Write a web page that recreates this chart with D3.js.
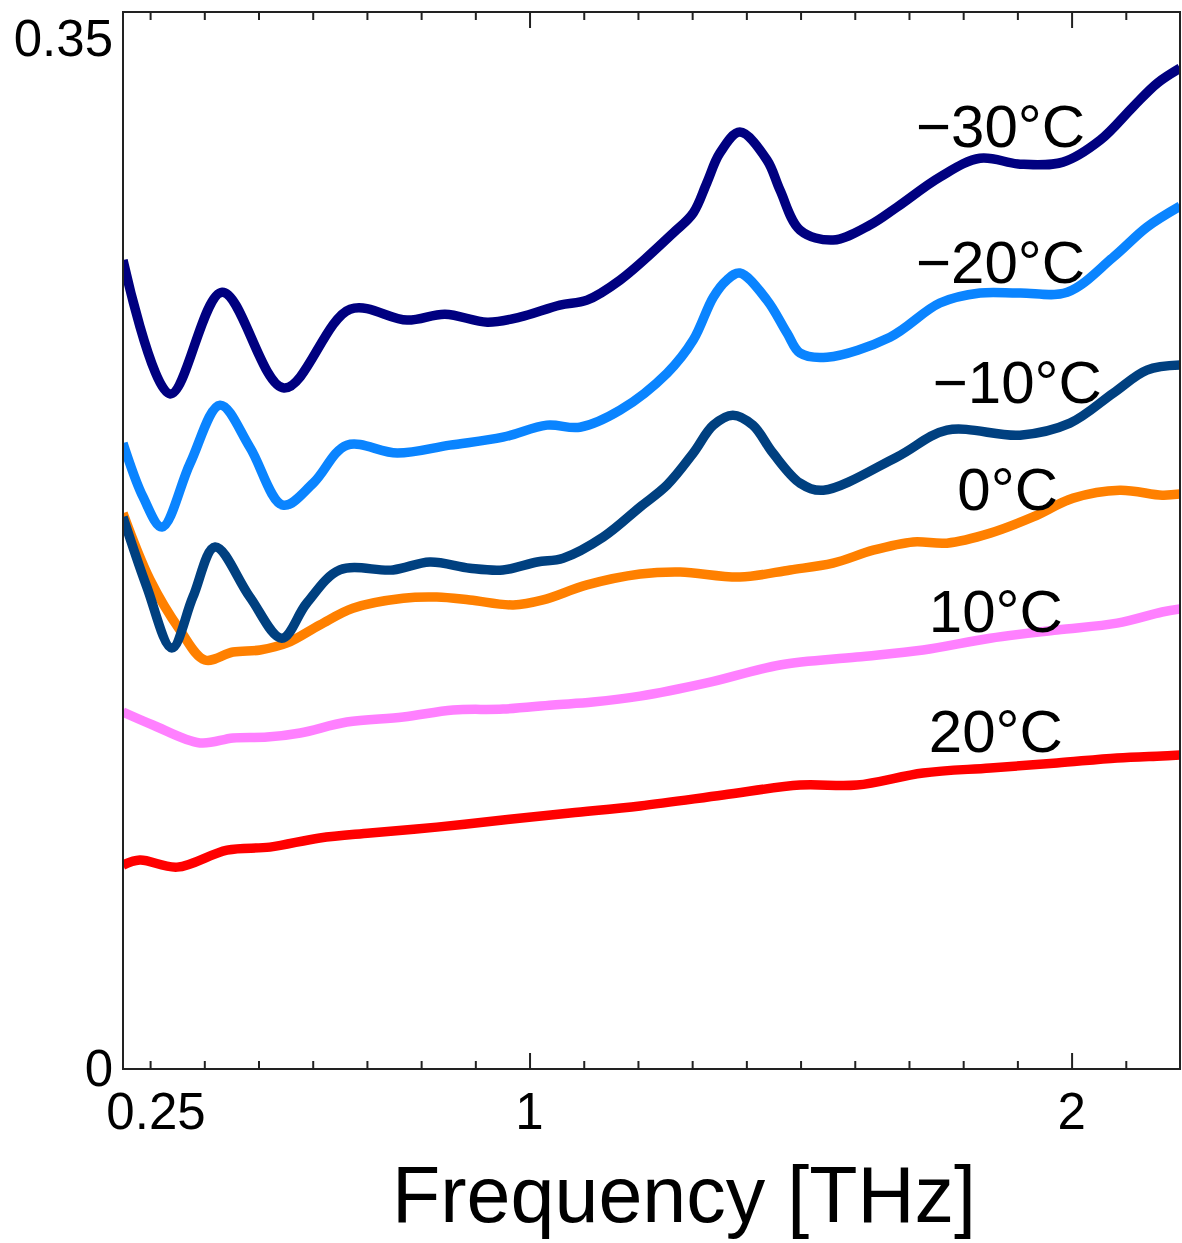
<!DOCTYPE html>
<html>
<head>
<meta charset="utf-8">
<script src="https://cdn.jsdelivr.net/npm/d3@7/dist/d3.min.js"></script>
<style>
  html, body { margin: 0; padding: 0; background: #fff; }
  svg { display: block; }
  text { font-family: "Liberation Sans", Arial, Helvetica, sans-serif; fill: #000; }
</style>
</head>
<body>
<div id="chart"></div>
<script>
// Frequency [THz] and value, one pair of arrays per temperature
const freqM30 = [0.25, 0.337, 0.433, 0.547, 0.669, 0.774, 0.844, 0.922, 0.982, 1.056, 1.106, 1.167, 1.265, 1.302, 1.327, 1.351, 1.388, 1.438, 1.462, 1.499, 1.560, 1.628, 1.678, 1.757, 1.831, 1.905, 1.984, 2.053, 2.113, 2.158, 2.2]
const valM30  = [0.2749, 0.2294, 0.2640, 0.2314, 0.2582, 0.2545, 0.2565, 0.2538, 0.2555, 0.2596, 0.2613, 0.2681, 0.2841, 0.2909, 0.3011, 0.3112, 0.3184, 0.3089, 0.2987, 0.2851, 0.2817, 0.2868, 0.2929, 0.3031, 0.3095, 0.3075, 0.3082, 0.3157, 0.3269, 0.3350, 0.3401]

const freqM20 = [0.25, 0.287, 0.322, 0.374, 0.429, 0.484, 0.545, 0.601, 0.663, 0.756, 0.853, 0.951, 1.032, 1.093, 1.167, 1.254, 1.302, 1.339, 1.364, 1.388, 1.438, 1.475, 1.499, 1.549, 1.665, 1.757, 1.831, 1.905, 1.992, 2.077, 2.139, 2.2]
const valM20  = [0.2127, 0.1944, 0.1842, 0.2059, 0.2256, 0.2113, 0.1916, 0.1991, 0.2120, 0.2093, 0.2120, 0.2147, 0.2188, 0.2181, 0.2239, 0.2365, 0.2477, 0.2623, 0.2681, 0.2705, 0.2613, 0.2501, 0.2433, 0.2419, 0.2487, 0.2603, 0.2637, 0.2637, 0.2640, 0.2759, 0.2861, 0.2932]

const freqM10 = [0.25, 0.294, 0.340, 0.379, 0.420, 0.484, 0.543, 0.589, 0.650, 0.748, 0.816, 0.890, 0.951, 1.014, 1.062, 1.136, 1.204, 1.254, 1.302, 1.339, 1.375, 1.412, 1.449, 1.499, 1.542, 1.678, 1.770, 1.905, 1.997, 2.077, 2.139, 2.2]
const valM10  = [0.1876, 0.1638, 0.1431, 0.1604, 0.1774, 0.1604, 0.1464, 0.1583, 0.1696, 0.1696, 0.1723, 0.1702, 0.1696, 0.1723, 0.1736, 0.1808, 0.1910, 0.1985, 0.2093, 0.2188, 0.2222, 0.2188, 0.2093, 0.1991, 0.1967, 0.2080, 0.2171, 0.2154, 0.2195, 0.2297, 0.2375, 0.2392]

const freqP0 = [0.25, 0.300, 0.355, 0.401, 0.453, 0.503, 0.553, 0.613, 0.674, 0.767, 0.829, 0.890, 0.970, 1.025, 1.106, 1.204, 1.278, 1.388, 1.481, 1.560, 1.634, 1.708, 1.770, 1.850, 1.929, 2.003, 2.089, 2.167, 2.2]
const valP0  = [0.1889, 0.1662, 0.1492, 0.1390, 0.1417, 0.1424, 0.1448, 0.1509, 0.1566, 0.1600, 0.1604, 0.1594, 0.1577, 0.1594, 0.1645, 0.1682, 0.1689, 0.1672, 0.1696, 0.1719, 0.1763, 0.1791, 0.1787, 0.1821, 0.1876, 0.1940, 0.1967, 0.1950, 0.1954]

const freqP10 = [0.25, 0.305, 0.392, 0.453, 0.516, 0.577, 0.663, 0.767, 0.859, 0.951, 1.043, 1.117, 1.204, 1.327, 1.462, 1.604, 1.726, 1.850, 1.973, 2.084, 2.167, 2.2]
const valP10  = [0.1213, 0.1169, 0.1108, 0.1125, 0.1128, 0.1142, 0.1179, 0.1196, 0.1220, 0.1223, 0.1237, 0.1247, 0.1267, 0.1312, 0.1373, 0.1400, 0.1424, 0.1464, 0.1492, 0.1515, 0.1553, 0.1563]

const freqP20 = [0.25, 0.281, 0.350, 0.442, 0.521, 0.613, 0.706, 0.829, 0.951, 1.075, 1.204, 1.357, 1.499, 1.604, 1.726, 1.850, 1.973, 2.084, 2.167, 2.2]
const valP20  = [0.0693, 0.0710, 0.0686, 0.0744, 0.0754, 0.0785, 0.0802, 0.0822, 0.0846, 0.0870, 0.0894, 0.0931, 0.0965, 0.0965, 0.1006, 0.1023, 0.1040, 0.1057, 0.1064, 0.1067]

const seriesNames = ["\u221230\u00b0C", "\u221220\u00b0C", "\u221210\u00b0C", "0\u00b0C", "10\u00b0C", "20\u00b0C"]
const seriesFreqs = [freqM30, freqM20, freqM10, freqP0, freqP10, freqP20]
const seriesVals  = [valM30, valM20, valM10, valP0, valP10, valP20]

const xLabelTicks = [0.25, 1, 2]
const yLabelTicks = [0, 0.35]

// layout / style
const COLORS = ["#000080", "#0a84ff", "#004080", "#ff8000", "#ff80ff", "#ff0000"]
// where each temperature label sits (right end of text, baseline), in data units
const LABEL_AT = [[2.025, 0.3133], [2.025, 0.2671], [2.056, 0.2263], [1.975, 0.1899], [1.984, 0.1485], [1.984, 0.1077]]

const W = 1182, H = 1243
const M = { left: 123, top: 12, right: 2, bottom: 174 }

const svg = d3.select("#chart").append("svg")
  .attr("width", W)
  .attr("height", H)

const x = d3.scaleLinear().domain([0.25, 2.2]).range([M.left, W - M.right])
const y = d3.scaleLinear().domain([0, 0.3592]).range([H - M.bottom, M.top])

const [x0, x1] = x.range()
const [y0, y1] = y.range()

svg.append("defs").append("clipPath").attr("id", "plot-clip")
  .append("rect")
  .attr("x", x0).attr("y", y1)
  .attr("width", x1 - x0).attr("height", y0 - y1)

// curves
const line = d3.line()
  .x(d => x(d[0]))
  .y(d => y(d[1]))
  .curve(d3.curveCatmullRom.alpha(0.5))

const series = seriesNames.map((name, i) => ({
  name,
  color: COLORS[i],
  points: seriesFreqs[i].map((f, j) => [f, seriesVals[i][j]])
}))

svg.append("g")
  .attr("clip-path", "url(#plot-clip)")
  .selectAll("path")
  .data(series.slice().reverse())
  .join("path")
  .attr("fill", "none")
  .attr("stroke", d => d.color)
  .attr("stroke-width", 9.5)
  .attr("stroke-linejoin", "round")
  .attr("d", d => line(d.points))

// inward ticks, bottom and top
const minorTicks = d3.range(3, 22).map(k => k / 10).filter(v => v !== 1 && v !== 2)
const majorTicks = [1, 2]

function tickAxis(axisFn, yPos, values, size) {
  svg.append("g")
    .attr("transform", `translate(0,${yPos})`)
    .call(axisFn(x).tickValues(values).tickSize(-size).tickFormat(""))
    .call(g => g.select(".domain").remove())
    .call(g => g.selectAll(".tick line").attr("stroke", "#222").attr("stroke-width", 2))
}
tickAxis(d3.axisBottom, y0, minorTicks, 8)
tickAxis(d3.axisBottom, y0, majorTicks, 16)
tickAxis(d3.axisTop, y1, minorTicks, 8)
tickAxis(d3.axisTop, y1, majorTicks, 16)

// frame
svg.append("rect")
  .attr("x", x0).attr("y", y1)
  .attr("width", x1 - x0).attr("height", y0 - y1)
  .attr("fill", "none")
  .attr("stroke", "#222")
  .attr("stroke-width", 2)

// tick labels
svg.append("g").selectAll("text")
  .data(xLabelTicks)
  .join("text")
  .attr("x", d => x(d) + (d === 0.25 ? 33 : 0))
  .attr("y", y0 + 60)
  .attr("text-anchor", "middle")
  .attr("font-size", 51)
  .text(d => d)

svg.append("g").selectAll("text")
  .data(yLabelTicks)
  .join("text")
  .attr("x", x0 - 10)
  .attr("y", d => y(d) + 17)
  .attr("text-anchor", "end")
  .attr("font-size", 51)
  .text(d => d)

// axis title
svg.append("text")
  .attr("x", 684)
  .attr("y", 1222)
  .attr("text-anchor", "middle")
  .attr("font-size", 79)
  .text("Frequency [THz]")

// temperature labels
svg.append("g").selectAll("text")
  .data(series)
  .join("text")
  .attr("x", (d, i) => x(LABEL_AT[i][0]))
  .attr("y", (d, i) => y(LABEL_AT[i][1]))
  .attr("text-anchor", "end")
  .attr("font-size", 60)
  .text(d => d.name)
</script>
</body>
</html>
